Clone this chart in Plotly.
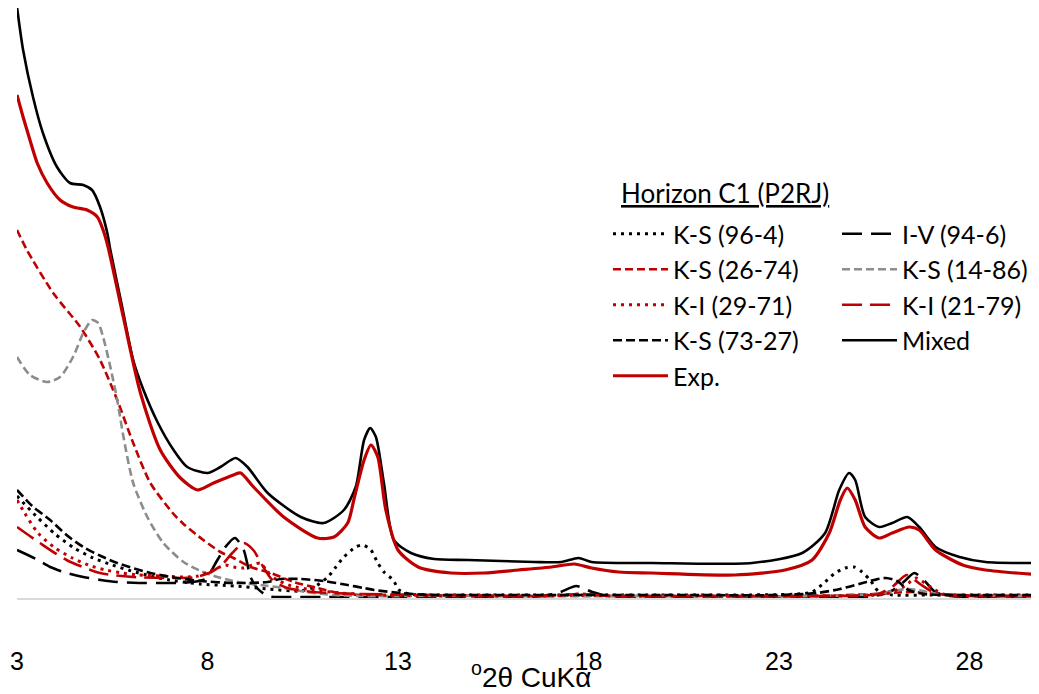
import plotly.graph_objects as go

# ---------------- data (2-theta in degrees, intensity in arbitrary units) ----------------
MIXED_X = [3.0, 3.16, 3.42, 3.68, 4.05, 4.39, 4.74, 4.97, 5.18, 5.37, 5.45, 5.75, 6.05, 6.32, 6.7,
           7.11, 7.47, 8.0, 8.34, 8.74, 9.05, 9.58, 10.45, 11.05, 11.58, 11.89, 12.11, 12.27, 12.42,
           12.63, 12.89, 13.34, 13.95, 14.84, 16.58, 17.29, 17.74, 18.08, 19.66, 22.29, 23.61, 24.21,
           24.58, 24.84, 25.0, 25.26, 25.63, 25.97, 26.37, 26.68, 27.11, 27.74, 28.42, 29.9]
MIXED_Y = [591, 548, 501, 465, 431, 415, 413, 408, 391, 365, 348, 293, 238, 208, 175,
           148, 131, 125, 131, 140, 131, 105, 81, 75, 88, 111, 158, 170, 161,
           115, 58, 45, 39, 38, 36, 36, 40, 36, 35, 35, 45, 65,
           108, 125, 118, 81, 71, 75, 81, 71, 51, 41, 36, 35]

EXP_X = [3.0, 3.16, 3.34, 3.53, 3.79, 4.13, 4.47, 4.84, 5.11, 5.26, 5.39, 5.79, 6.24, 6.76, 7.29,
         7.74, 8.16, 8.68, 8.87, 9.21, 10.0, 10.89, 11.32, 11.68, 11.84, 12.11, 12.29, 12.47, 12.68,
         13.0, 13.53, 14.39, 15.26, 16.16, 17.03, 17.63, 18.08, 18.79, 19.66, 21.84, 23.16, 23.87,
         24.32, 24.61, 24.79, 25.0, 25.26, 25.63, 25.97, 26.42, 26.68, 27.11, 27.82, 28.42, 29.9]
EXP_Y = [503, 481, 458, 435, 415, 398, 391, 388, 381, 368, 351, 281, 205, 148, 120,
         108, 115, 123, 125, 111, 81, 60, 61, 75, 98, 138, 153, 141, 88,
         48, 31, 25, 25, 28, 31, 34, 30, 26, 25, 23, 28, 38,
         65, 98, 110, 98, 71, 60, 65, 71, 68, 48, 33, 28, 23]

KS96_X = [3.0, 3.5, 4.0, 4.5, 5.0, 5.5, 6.0, 6.5, 7.0, 7.8, 8.7, 9.6, 10.45, 10.8, 11.16, 11.37,
          11.58, 11.89, 12.08, 12.29, 12.47, 12.63, 12.87, 13.03, 13.3, 14.0, 16.0, 18.0, 20.0,
          22.0, 23.5, 23.87, 24.21, 24.47, 24.74, 24.97, 25.18, 25.39, 25.63, 26.0, 27.0, 28.5, 29.9]
KS96_Y = [102, 82, 64, 50, 40, 33, 27, 22, 18, 14, 12, 9, 7, 11, 21, 31,
          41, 51, 53, 48, 35, 26, 18, 8, 4, 3, 3, 3, 3,
          3, 4, 6, 16, 25, 30, 31, 26, 18, 6, 3, 3, 3, 3]

IV_X = [3.0, 3.5, 3.87, 4.3, 4.74, 5.2, 5.63, 6.2, 6.76, 7.2, 7.6, 7.95, 8.26, 8.47, 8.72, 8.95,
        9.13, 9.3, 9.58, 10.0, 11.0, 13.0, 15.0, 16.5, 17.2, 17.68, 18.1, 18.6, 20.0, 22.0, 24.0,
        25.5, 26.0, 26.3, 26.55, 26.8, 27.1, 27.5, 28.5, 29.9]
IV_Y = [48, 39, 31, 25, 21, 18, 16, 15, 15, 15, 16, 19, 38, 51, 60, 48,
        21, 10, 2, 1, 1, 1, 1, 1, 5, 12, 6, 1, 1, 1, 1,
        2, 8, 17, 25, 18, 6, 2, 1, 1]

KS26_X = [3.0, 3.26, 3.95, 4.66, 5.18, 5.63, 6.05, 6.5, 7.11, 7.37, 7.89, 8.34, 8.68, 9.13, 9.66,
          10.26, 10.89, 11.42, 12.0, 13.0, 16.0, 20.0, 24.0, 25.5, 26.5, 27.5, 29.9]
KS26_Y = [368, 348, 305, 271, 238, 198, 155, 115, 84, 74, 58, 46, 40, 31, 25,
          16, 10, 5, 3, 3, 2, 2, 2, 4, 6, 3, 2]

KS14_X = [3.0, 3.34, 3.79, 4.13, 4.47, 4.74, 4.97, 5.13, 5.26, 5.45, 5.63, 5.8, 6.05, 6.42, 6.84,
          7.37, 7.82, 8.26, 8.79, 9.4, 10.0, 10.6, 11.32, 12.0, 14.0, 17.0, 20.0, 24.0, 25.5, 26.4,
          27.2, 28.5, 29.9]
KS14_Y = [241, 223, 216, 221, 241, 265, 278, 275, 261, 231, 198, 160, 115, 81, 55,
          36, 27, 21, 16, 13, 10, 6, 3, 2, 2, 2, 2, 2, 4, 9,
          4, 2, 2]

KI29_X = [3.0, 3.2, 3.55, 4.0, 4.45, 4.87, 5.32, 5.76, 6.18, 6.8, 7.37, 7.75, 8.03, 8.26, 8.47,
          8.68, 8.95, 9.18, 9.39, 9.58, 9.74, 10.2, 10.8, 11.5, 12.5, 14.0, 17.0, 17.8, 18.6, 21.0,
          24.0, 25.8, 26.3, 26.6, 26.9, 27.3, 28.5, 29.9]
KI29_Y = [98, 85, 65, 50, 40, 33, 28, 25, 23, 22, 21, 22, 26, 30, 33,
          31, 30, 33, 35, 26, 20, 12, 8, 5, 3, 2, 2, 4, 2, 2,
          2, 4, 12, 20, 13, 4, 2, 2]

KI21_X = [3.0, 3.6, 4.3, 5.18, 6.05, 7.1, 7.7, 8.1, 8.4, 8.65, 8.95, 9.2, 9.45, 9.7, 10.1,
          10.8, 12.0, 14.0, 17.0, 17.8, 18.6, 21.0, 24.0, 25.6, 26.0, 26.35, 26.7, 27.1, 28.0, 29.9]
KI21_Y = [71, 55, 38, 25, 21, 20, 21, 26, 34, 45, 55, 48, 32, 18, 10,
          6, 4, 3, 2, 4, 2, 2, 2, 4, 12, 23, 14, 5, 2, 2]

KS73_X = [3.0, 3.4, 3.87, 4.3, 4.74, 5.2, 5.63, 6.5, 7.2, 7.82, 8.7, 9.58, 9.92, 10.45, 11.05,
          11.68, 12.1, 12.37, 13.08, 13.87, 15.0, 17.0, 20.0, 23.0, 24.0, 24.6, 25.1, 25.5, 25.8,
          26.1, 26.4, 26.8, 27.5, 29.9]
KS73_Y = [108, 92, 78, 63, 51, 42, 35, 25, 20, 17, 15, 16, 19, 19, 17,
          13, 10, 8, 5, 3, 3, 3, 3, 3, 5, 9, 14, 18, 20,
          17, 8, 4, 3, 3]

TICK_VALS = [3, 8, 13, 18, 23, 28]
LEGEND_TITLE = "Horizon C1 (P2RJ)"
X_TITLE = "<sup>o</sup>2θ CuKα"

RED = "#C00000"
BLACK = "#000000"
GRAY = "#8C8C8C"

# page layout (the plot div sits 8px in from the page's top-left corner)
W, H = 1039, 694
OFF = 8
L_DIV, R_DIV, BASE_DIV = 17 - OFF, 1039 - OFF, 598 - OFF
PW = R_DIV - L_DIV
PX_PER_DEG = 38.1


def px(page_x):
    return (page_x - OFF - L_DIV) / PW


def py(page_y):
    return (BASE_DIV - (page_y - OFF)) / BASE_DIV


fig = go.Figure()


def add(name, xs, ys, color, dash, width, legend):
    fig.add_trace(go.Scatter(
        x=xs, y=ys, name=name, mode="lines",
        line=dict(color=color, dash=dash, width=width, shape="spline", smoothing=0.7),
        legend=legend, legendgroup=name, hoverinfo="skip"))


add("K-S (96-4)", KS96_X, KS96_Y, BLACK, "3px,5px", 3, "legend")
add("I-V (94-6)", IV_X, IV_Y, BLACK, "20px,9px", 2.6, "legend2")
add("K-S (26-74)", KS26_X, KS26_Y, RED, "8px,4px", 2.6, "legend")
add("K-S (14-86)", KS14_X, KS14_Y, GRAY, "8px,4px", 2.6, "legend2")
add("K-I (29-71)", KI29_X, KI29_Y, RED, "3px,5px", 3, "legend")
add("K-I (21-79)", KI21_X, KI21_Y, RED, "20px,8px", 2.6, "legend2")
add("K-S (73-27)", KS73_X, KS73_Y, BLACK, "9px,4px", 2.6, "legend")
add("Mixed", MIXED_X, MIXED_Y, BLACK, "solid", 2.6, "legend2")
add("Exp.", EXP_X, EXP_Y, RED, "solid", 3.2, "legend")

legend_font = dict(family="Lato, Noto Sans, sans-serif", size=25, color="#000000")
common_legend = dict(
    xref="paper", yref="paper", xanchor="left", yanchor="top",
    bgcolor="rgba(0,0,0,0)", font=legend_font, itemwidth=55,
    tracegroupgap=2, traceorder="normal", itemclick=False, itemdoubleclick=False)

fig.update_layout(
    width=W, height=H,
    margin=dict(l=L_DIV, r=W - R_DIV, t=0, b=H - BASE_DIV, pad=0, autoexpand=False),
    paper_bgcolor="white", plot_bgcolor="white",
    showlegend=True,
    legend=dict(x=px(608), y=py(211), **common_legend),
    legend2=dict(x=px(837), y=py(211), **common_legend),
    xaxis=dict(
        range=[3, 3 + PW / PX_PER_DEG],
        tickvals=TICK_VALS, ticktext=[str(v) for v in TICK_VALS],
        showgrid=False, zeroline=False,
        showline=True, linecolor="#D9D9D9", linewidth=2,
        ticks="", ticklabelstandoff=40,
        tickfont=dict(family="Liberation Sans Narrow, Liberation Sans, sans-serif", size=25, color="#000000"),
    ),
    yaxis=dict(range=[0, BASE_DIV], visible=False, showgrid=False, zeroline=False),
    annotations=[
        dict(text="<u>" + LEGEND_TITLE + "</u>", xref="paper", yref="paper",
             x=px(725), y=py(193),
             xanchor="center", yanchor="middle", showarrow=False,
             font=dict(family="Lato, Noto Sans, sans-serif", size=26, color="#000000")),
        dict(text=X_TITLE, xref="paper", yref="paper",
             x=px(531), y=py(694),
             xanchor="center", yanchor="bottom", showarrow=False, borderpad=0,
             font=dict(family="Liberation Sans Narrow, Liberation Sans, sans-serif", size=28, color="#000000")),
    ],
)

fig.write_html("out.html")
